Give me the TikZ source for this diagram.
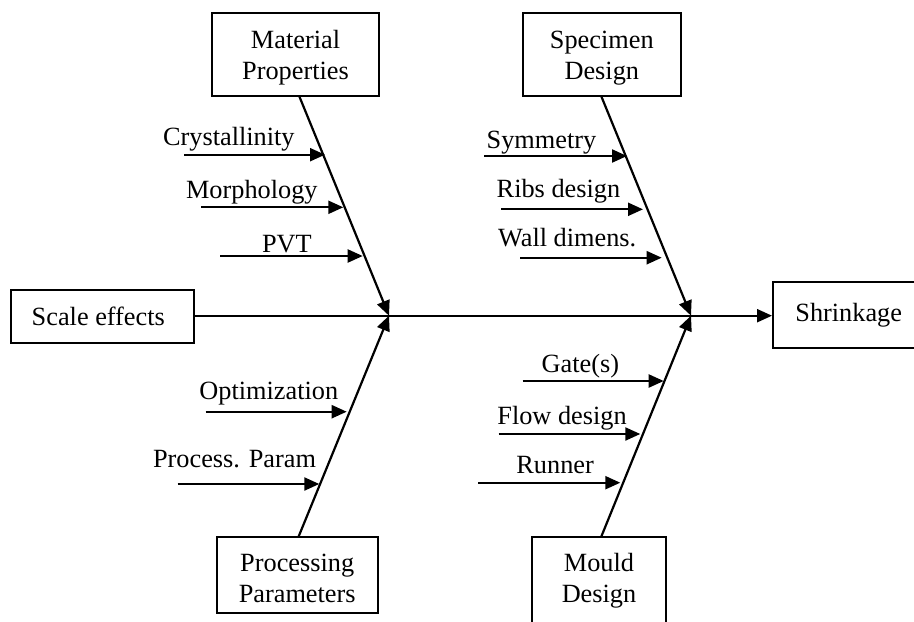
\documentclass[tikz,border=0pt]{standalone}
\usepackage{fontspec}
\setmainfont{Liberation Serif}
\usetikzlibrary{arrows.meta}

% struts that lower or raise a two-line box caption a little
\newcommand{\toppad}{\rule{0pt}{12pt}}
\newcommand{\botpad}{\rule[-4.9pt]{0pt}{0pt}}

\tikzset{
  box/.style={draw, line width=1pt, align=center, inner sep=0pt,
    font=\fontsize{13.15pt}{15.5pt}\selectfont},
  lbl/.style={anchor=base west, inner sep=0pt,
    font=\fontsize{13.15pt}{15.5pt}\selectfont},
  arr/.style={line width=1.1pt, -{Triangle[length=7.5pt,width=6.5pt]}},
  bone/.style={line width=1.1pt, -{Triangle[length=7.5pt,width=6.5pt]}},
}

\begin{document}
\begin{tikzpicture}[x=0.5pt,y=-0.5pt]
\useasboundingbox (0,0) rectangle (914,621);
\clip (0,0) rectangle (914,621);

% cause categories and effect
\node[box, minimum width=83.5pt, minimum height=41.8pt] (mat) at (295.5,54.5) {\toppad Material\\Properties};
\node[box, minimum width=79.2pt, minimum height=41.8pt] (spec) at (601.8,54.5) {\toppad Specimen\\Design};
\node[box, minimum width=91.7pt, minimum height=26.7pt] (scale) at (102.3,316.7) {Scale effects\kern4pt};
\node[box, minimum width=75.7pt, minimum height=33.3pt] (shr) at (848.7,315) {Shrinkage};
\node[box, minimum width=80.5pt, minimum height=38pt] (proc) at (297.2,575.3) {\toppad Processing\\Parameters};
\node[box, minimum width=67.3pt, minimum height=45pt] (mould) at (599,582.3) {Mould\\Design\botpad};

% junctions on the spine
\coordinate (j1) at (389,315.7);
\coordinate (j2) at (691,315.7);

% spine
\draw[arr] (scale.east |- j1) -- (shr.west |- j1);

% bones
\coordinate (mb) at (299.3,96.3);
\coordinate (sb) at (601.3,96.3);
\coordinate (pb) at (298.3,537.3);
\coordinate (db) at (601,537.3);
\draw[bone] (mb) -- (j1);
\draw[bone] (sb) -- (j2);
\draw[bone] (pb) -- (j1);
\draw[bone] (db) -- (j2);

% material properties
\coordinate (c1s) at (184.3,154.7); \coordinate (c1e) at (325,154.7);
\coordinate (c2s) at (201.3,207.3); \coordinate (c2e) at (343.3,207.3);
\coordinate (c3s) at (220,256);     \coordinate (c3e) at (362.7,256);
\draw[arr] (c1s) -- (c1e);
\draw[arr] (c2s) -- (c2e);
\draw[arr] (c3s) -- (c3e);
\node[lbl] (c1) at (162.7,145.5) {Crystallinity};
\node[lbl] (c2) at (185.7,198) {Morphology};
\node[lbl] (c3) at (261.7,252.5) {PVT};

% specimen design
\coordinate (s1s) at (484.3,156);   \coordinate (s1e) at (627,156);
\coordinate (s2s) at (501.3,209.3); \coordinate (s2e) at (643,209.3);
\coordinate (s3s) at (520.3,257.7); \coordinate (s3e) at (661.7,257.7);
\draw[arr] (s1s) -- (s1e);
\draw[arr] (s2s) -- (s2e);
\draw[arr] (s3s) -- (s3e);
\node[lbl] (s1) at (486.3,148.5) {Symmetry};
\node[lbl] (s2) at (496.3,197.7) {Ribs design};
\node[lbl] (s3) at (497.7,246.7) {Wall dimens.};

% processing parameters
\coordinate (p1s) at (205.7,411.7); \coordinate (p1e) at (346.7,411.7);
\coordinate (p2s) at (177.7,484);   \coordinate (p2e) at (319.3,484);
\draw[arr] (p1s) -- (p1e);
\draw[arr] (p2s) -- (p2e);
\node[lbl] (p1) at (199,399.3) {Optimization};
\node[lbl] (p2) at (152.7,467.7) {Process. Param};

% mould design
\coordinate (m1s) at (522.7,381);   \coordinate (m1e) at (663.7,381);
\coordinate (m2s) at (498.7,434);   \coordinate (m2e) at (640.3,434);
\coordinate (m3s) at (478,482.7);   \coordinate (m3e) at (620.3,482.7);
\draw[arr] (m1s) -- (m1e);
\draw[arr] (m2s) -- (m2e);
\draw[arr] (m3s) -- (m3e);
\node[lbl] (m1) at (541.3,372.7) {Gate(s)};
\node[lbl] (m2) at (497,424.3) {Flow design};
\node[lbl] (m3) at (516,473.3) {Runner};
\end{tikzpicture}
\end{document}
